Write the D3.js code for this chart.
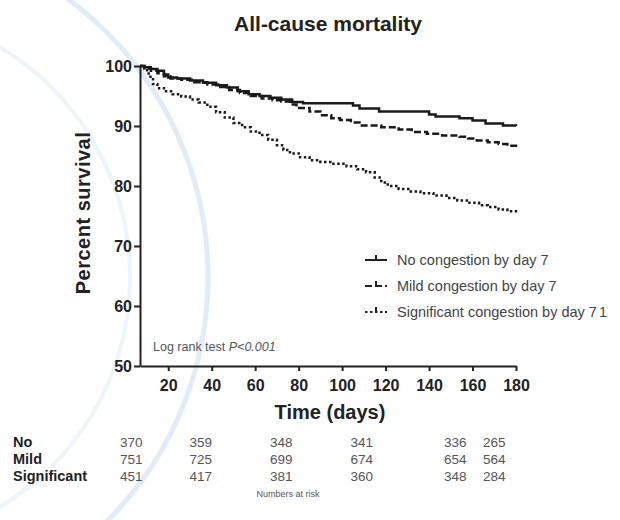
<!DOCTYPE html>
<html>
<head>
<meta charset="utf-8">
<script src="https://cdn.jsdelivr.net/npm/d3@7"></script>
<style>
  body { margin: 0; background: #fff; }
  svg { font-family: "Liberation Sans", Arial, sans-serif; }
</style>
</head>
<body>
<script>
const w = 620;
const h = 520;

// Kaplan-Meier curves: [day, percent survival]
const noCongestion = [
  [7,100],[9,99.8],[12,99.5],[15,99.2],[18,98.6],[20,98.1],[24,97.9],[30,97.6],
  [36,97.2],[42,96.8],[47,96.4],[52,95.8],[57,95.3],[62,95.0],[67,94.7],[72,94.4],
  [77,94.0],[82,93.8],[105,93.4],[108,92.9],[117,92.4],[140,91.9],[143,91.6],
  [154,91.3],[160,90.9],[166,90.4],[174,90.1],[180,90.0]
];
const mildCongestion = [
  [7,100],[9,99.6],[12,99.2],[15,98.8],[18,98.3],[21,97.9],[26,97.7],[32,97.3],
  [38,96.9],[43,96.5],[48,96.0],[53,95.5],[58,95.0],[63,94.6],[68,94.3],[72,94.1],
  [76,93.6],[79,93.0],[85,92.4],[90,91.8],[95,91.3],[99,91.0],[104,90.6],[108,90.1],
  [118,89.8],[126,89.4],[132,89.0],[139,88.7],[146,88.4],[154,88.2],[158,87.9],
  [162,87.6],[167,87.3],[172,87.0],[176,86.7],[180,86.5]
];
const sigCongestion = [
  [7,100],[9,99.3],[11,98.2],[13,97.0],[15,96.3],[18,95.8],[22,95.3],[26,94.9],
  [30,94.4],[34,93.9],[38,93.2],[42,92.3],[46,91.4],[50,90.5],[54,89.8],[58,89.1],
  [62,88.5],[66,87.7],[70,86.8],[73,86.0],[76,85.4],[80,84.8],[85,84.3],[90,84.0],
  [96,83.7],[102,83.3],[107,82.8],[111,82.3],[115,81.4],[118,80.6],[121,80.0],
  [126,79.5],[131,79.1],[136,78.8],[142,78.4],[148,78.0],[153,77.6],[158,77.2],
  [163,76.8],[167,76.5],[172,76.1],[176,75.8],[180,75.6]
];

const groups = ["No congestion by day 7", "Mild congestion by day 7", "Significant congestion by day 7"];
const dashes = [null, "7,3", "2.5,2.5"];
const yTicks = [50, 60, 70, 80, 90, 100];
const xTicks = [20, 40, 60, 80, 100, 120, 140, 160, 180];

// numbers at risk table
const riskRows = ["No", "Mild", "Significant"];
const riskDays = [3, 35, 72, 109, 152, 170];
const riskNo = [370, 359, 348, 341, 336, 265];
const riskMild = [751, 725, 699, 674, 654, 564];
const riskSig = [451, 417, 381, 360, 348, 284];

const svg = d3.select("body").append("svg")
  .attr("width", w)
  .attr("height", h);

// faint watermark rings behind everything
svg.append("circle")
  .attr("cx", -138).attr("cy", 277).attr("r", 346)
  .attr("fill", "none")
  .attr("stroke", "#e0ecf7")
  .attr("stroke-width", 5);
svg.append("circle")
  .attr("cx", -138).attr("cy", 277).attr("r", 268)
  .attr("fill", "none")
  .attr("stroke", "#edf4fa")
  .attr("stroke-width", 4);

const x = d3.scaleLinear().domain([7, 180]).range([140, 516]);
const y = d3.scaleLinear().domain([50, 100]).range([366, 66]);

svg.append("text")
  .attr("x", 328).attr("y", 31)
  .attr("text-anchor", "middle")
  .style("font-size", "21px")
  .style("font-weight", "bold")
  .style("fill", "#222")
  .text("All-cause mortality");

const yAxis = svg.append("g")
  .attr("transform", "translate(140,0)")
  .call(d3.axisLeft(y).tickValues(yTicks).tickSize(6).tickSizeOuter(0).tickPadding(2));

const xAxis = svg.append("g")
  .attr("transform", "translate(0,366)")
  .call(d3.axisBottom(x).tickValues(xTicks).tickSize(5).tickSizeOuter(0).tickPadding(9));

[yAxis, xAxis].forEach(function(a) {
  a.select(".domain").attr("stroke", "#222").attr("stroke-width", 2);
  a.selectAll(".tick line").attr("stroke", "#222").attr("stroke-width", 2);
  a.selectAll(".tick text")
    .style("font-size", "16px")
    .style("font-weight", "bold")
    .style("fill", "#222")
    .style("font-family", "Liberation Sans, Arial, sans-serif");
});

svg.append("text")
  .attr("transform", "translate(90,213) rotate(-90)")
  .attr("text-anchor", "middle")
  .style("font-size", "20px")
  .style("font-weight", "bold")
  .style("letter-spacing", "0.5px")
  .style("fill", "#222")
  .text("Percent survival");

svg.append("text")
  .attr("x", 330).attr("y", 419)
  .attr("text-anchor", "middle")
  .style("font-size", "20px")
  .style("font-weight", "bold")
  .style("fill", "#222")
  .text("Time (days)");

const line = d3.line()
  .x(d => x(d[0]))
  .y(d => y(d[1]))
  .curve(d3.curveStepAfter);

[noCongestion, mildCongestion, sigCongestion].forEach(function(s, i) {
  svg.append("path")
    .datum(s)
    .attr("d", line)
    .attr("fill", "none")
    .attr("stroke", "#1a1a1a")
    .attr("stroke-width", 2.5)
    .attr("stroke-dasharray", dashes[i]);
});

// legend
const legend = svg.append("g");
groups.forEach(function(g, i) {
  const ly = 260 + i * 26;
  legend.append("line")
    .attr("x1", 365).attr("x2", 387)
    .attr("y1", ly).attr("y2", ly)
    .attr("stroke", "#222")
    .attr("stroke-width", 2)
    .attr("stroke-dasharray", dashes[i]);
  legend.append("line")
    .attr("x1", 376).attr("x2", 376)
    .attr("y1", ly - 5).attr("y2", ly)
    .attr("stroke", "#222")
    .attr("stroke-width", 2);
  const t = legend.append("text")
    .attr("x", 397).attr("y", ly + 5)
    .style("font-size", "14.5px")
    .style("fill", "#444")
    .text(g);
  if (i == 2) {
    t.append("tspan").attr("dx", 2).text("1");
  }
});

svg.append("text")
  .attr("x", 153).attr("y", 351)
  .style("font-size", "12.5px")
  .style("fill", "#555")
  .text("Log rank test ")
  .append("tspan")
  .style("font-style", "italic")
  .text("P<0.001");

// numbers at risk
const risk = [riskNo, riskMild, riskSig];
riskRows.forEach(function(r, i) {
  const ry = 447 + i * 17;
  svg.append("text")
    .attr("x", 13).attr("y", ry)
    .style("font-size", "14.5px")
    .style("font-weight", "bold")
    .style("fill", "#222")
    .text(r);
  svg.selectAll(null)
    .data(risk[i])
    .enter()
    .append("text")
    .attr("x", (d, j) => x(riskDays[j]))
    .attr("y", ry)
    .attr("text-anchor", "middle")
    .style("font-size", "13.5px")
    .style("fill", "#555")
    .text(d => d);
});

svg.append("text")
  .attr("x", 288).attr("y", 497)
  .attr("text-anchor", "middle")
  .style("font-size", "9px")
  .style("fill", "#555")
  .text("Numbers at risk");
</script>
</body>
</html>
